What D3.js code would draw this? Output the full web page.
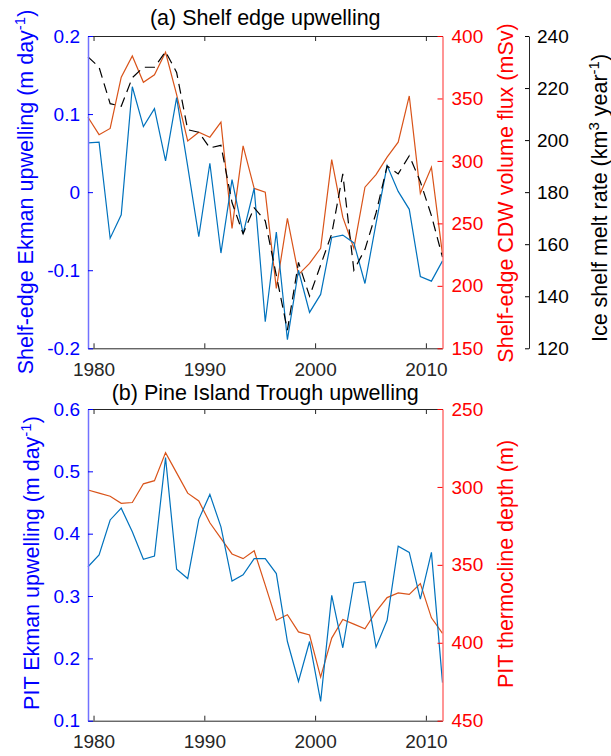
<!DOCTYPE html>
<html>
<head>
<meta charset="utf-8">
<script src="https://cdn.jsdelivr.net/npm/d3@7/dist/d3.min.js"></script>
<style>
body { margin: 0; background: #fff; }
svg { display: block; }
text { font-family: "Liberation Sans", Arial, Helvetica, sans-serif; }
</style>
</head>
<body>
<svg width="611" height="756"></svg>
<script>
// annual values, plotted at mid-year
const years = [1979.5, 1980.5, 1981.5, 1982.5, 1983.5, 1984.5, 1985.5, 1986.5, 1987.5, 1988.5,
  1989.5, 1990.5, 1991.5, 1992.5, 1993.5, 1994.5, 1995.5, 1996.5, 1997.5, 1998.5,
  1999.5, 2000.5, 2001.5, 2002.5, 2003.5, 2004.5, 2005.5, 2006.5, 2007.5, 2008.5,
  2009.5, 2010.5, 2011.5];

// (a) shelf edge
const shelfEkman = [0.063, 0.064, -0.059, -0.029, 0.135, 0.084, 0.107, 0.040, 0.121, 0.033,
  -0.057, 0.037, -0.078, 0.016, -0.053, 0.005, -0.166, -0.051, -0.189, -0.100,
  -0.154, -0.131, -0.058, -0.055, -0.065, -0.117, -0.040, 0.034, 0.001, -0.022,
  -0.108, -0.114, -0.088];
const cdwFlux = [335, 321, 326, 367, 384, 363, 369, 387, 353, 316,
  323, 319, 331, 246, 312, 278, 275, 198, 254, 209,
  218, 230, 301, 255, 230, 279, 289, 303, 315, 352,
  274, 295, 225];
const meltRate = [232, 228, 214, 213, 224, 228, 228, 234, 226, 204,
  203, 197, 198, 176, 164, 174, 169, 148, 127, 153,
  140, 152, 164, 187, 150, 158, 172, 190, 187, 194,
  184, 171, 155];

// (b) Pine Island Trough
const pitEkman = [0.347, 0.366, 0.422, 0.441, 0.403, 0.359, 0.364, 0.522, 0.343, 0.328,
  0.423, 0.463, 0.411, 0.324, 0.334, 0.360, 0.360, 0.336, 0.227, 0.163,
  0.227, 0.131, 0.301, 0.217, 0.321, 0.323, 0.218, 0.261, 0.380, 0.370,
  0.295, 0.370, 0.161];
const thermoDepth = [302, 304, 306, 310.5, 310, 298, 296, 278, 291, 304,
  309, 323, 333, 343, 346, 341, 363, 385.5, 382, 393,
  395, 422, 397, 385, 388, 391, 380, 371, 368, 369,
  362, 384, 394];

const xTicks = [1980, 1990, 2000, 2010];
const shelfTicks = [-0.2, -0.1, 0, 0.1, 0.2];
const fluxTicks = [150, 200, 250, 300, 350, 400];
const meltTicks = [120, 140, 160, 180, 200, 220, 240];
const pitTicks = [0.1, 0.2, 0.3, 0.4, 0.5, 0.6];
const depthTicks = [250, 300, 350, 400, 450];

const BLUE = "#0072BD", ORANGE = "#D95319", AXIS = "#262626";
const tickFont = "19px", labelFont = "21.5px";

const svg = d3.select("svg");
const left = 88, right = 442.5;
const topA = 36, botA = 348.3;
const topB = 409, botB = 720.7;

const x = d3.scaleLinear().domain([1979.5, 2011.5]).range([left, right]);
const numFmt = d => String(+d.toFixed(1));

function styleAxis(g, lineColor, textColor, lineWidth) {
  g.select(".domain").attr("stroke", lineColor).attr("stroke-width", lineWidth);
  g.selectAll(".tick line").attr("stroke", textColor);
  g.selectAll(".tick text").attr("fill", textColor).style("font-size", tickFont);
  g.attr("font-family", null);
}

function xFrame(top, bottom, pad) {
  const b = svg.append("g").attr("transform", "translate(0," + bottom + ")")
    .call(d3.axisBottom(x).tickValues(xTicks).tickSize(-5).tickSizeOuter(0).tickPadding(pad).tickFormat(d3.format("d")));
  styleAxis(b, AXIS, AXIS, 1);
  const t = svg.append("g").attr("transform", "translate(0," + top + ")")
    .call(d3.axisTop(x).tickValues(xTicks).tickSize(-5).tickSizeOuter(0).tickFormat(""));
  styleAxis(t, AXIS, AXIS, 1);
}

function yLabel(xpos, ypos, color, parts) {
  const t = svg.append("text")
    .attr("transform", "translate(" + xpos + "," + ypos + ") rotate(-90)")
    .attr("text-anchor", "middle")
    .attr("fill", color)
    .style("font-size", labelFont);
  parts.forEach(p => {
    // p = [text, 1 raise to superscript / -1 back down / 0 stay]
    t.append("tspan").text(p[0])
      .attr("dy", p[1] === 1 ? -8 : (p[1] === -1 ? 8 : 0))
      .style("font-size", p[1] === 1 ? "15px" : labelFont);
  });
}

function drawLine(data, y, color, dash) {
  const line = d3.line().x((d, i) => x(years[i])).y(d => y(d));
  svg.append("path").datum(data)
    .attr("d", line)
    .attr("fill", "none")
    .attr("stroke", color)
    .attr("stroke-width", 1.2)
    .attr("stroke-dasharray", dash || null);
}

// ---------- (a) Shelf edge upwelling ----------
const yShelf = d3.scaleLinear().domain([-0.2, 0.2]).range([botA, topA]);
const yFlux = d3.scaleLinear().domain([150, 400]).range([botA, topA]);
const yMelt = d3.scaleLinear().domain([120, 240]).range([botA, topA]);

xFrame(topA, botA, 14);

drawLine(cdwFlux, yFlux, ORANGE);
drawLine(shelfEkman, yShelf, BLUE);
drawLine(meltRate, yMelt, "#000", "10,6");

const aL = svg.append("g").attr("transform", "translate(" + left + ",0)")
  .call(d3.axisLeft(yShelf).tickValues(shelfTicks).tickSize(-5).tickSizeOuter(0).tickPadding(8).tickFormat(numFmt));
styleAxis(aL, "#7272ff", "#0000ff", 1.5);

const aR = svg.append("g").attr("transform", "translate(" + right + ",0)")
  .call(d3.axisRight(yFlux).tickValues(fluxTicks).tickSize(-5).tickSizeOuter(0).tickPadding(9));
styleAxis(aR, "#ff7272", "#ff0000", 1.5);

const aM = svg.append("g").attr("transform", "translate(529,0)")
  .call(d3.axisRight(yMelt).tickValues(meltTicks).tickSize(-4).tickSizeOuter(0).tickPadding(8));
styleAxis(aM, AXIS, "#000", 1);

svg.append("text").attr("x", (left + right) / 2).attr("y", 25)
  .attr("text-anchor", "middle").attr("fill", "#000").style("font-size", labelFont)
  .text("(a) Shelf edge upwelling");

yLabel(33, 192, "#0000ff", [["Shelf-edge Ekman upwelling (m day", 0], ["-1", 1], [")", -1]]);
yLabel(513, 193, "#ff0000", [["Shelf-edge CDW volume flux (mSv)", 0]]);
yLabel(607, 198, "#000", [["Ice shelf melt rate (km", 0], ["3", 1], [" year", -1], ["-1", 1], [")", -1]]);

// ---------- (b) Pine Island Trough upwelling ----------
const yPit = d3.scaleLinear().domain([0.1, 0.6]).range([botB, topB]);
const yDepth = d3.scaleLinear().domain([250, 450]).range([topB, botB]);

xFrame(topB, botB, 13.5);

drawLine(thermoDepth, yDepth, ORANGE);
drawLine(pitEkman, yPit, BLUE);

const bL = svg.append("g").attr("transform", "translate(" + left + ",0)")
  .call(d3.axisLeft(yPit).tickValues(pitTicks).tickSize(-5).tickSizeOuter(0).tickPadding(8).tickFormat(numFmt));
styleAxis(bL, "#7272ff", "#0000ff", 1.5);

const bR = svg.append("g").attr("transform", "translate(" + right + ",0)")
  .call(d3.axisRight(yDepth).tickValues(depthTicks).tickSize(-5).tickSizeOuter(0).tickPadding(9));
styleAxis(bR, "#ff7272", "#ff0000", 1.5);

svg.append("text").attr("x", (left + right) / 2).attr("y", 400)
  .attr("text-anchor", "middle").attr("fill", "#000").style("font-size", labelFont)
  .text("(b) Pine Island Trough upwelling");

yLabel(39, 563, "#0000ff", [["PIT Ekman upwelling (m day", 0], ["-1", 1], [")", -1]]);
yLabel(513, 564, "#ff0000", [["PIT thermocline depth (m)", 0]]);
</script>
</body>
</html>
